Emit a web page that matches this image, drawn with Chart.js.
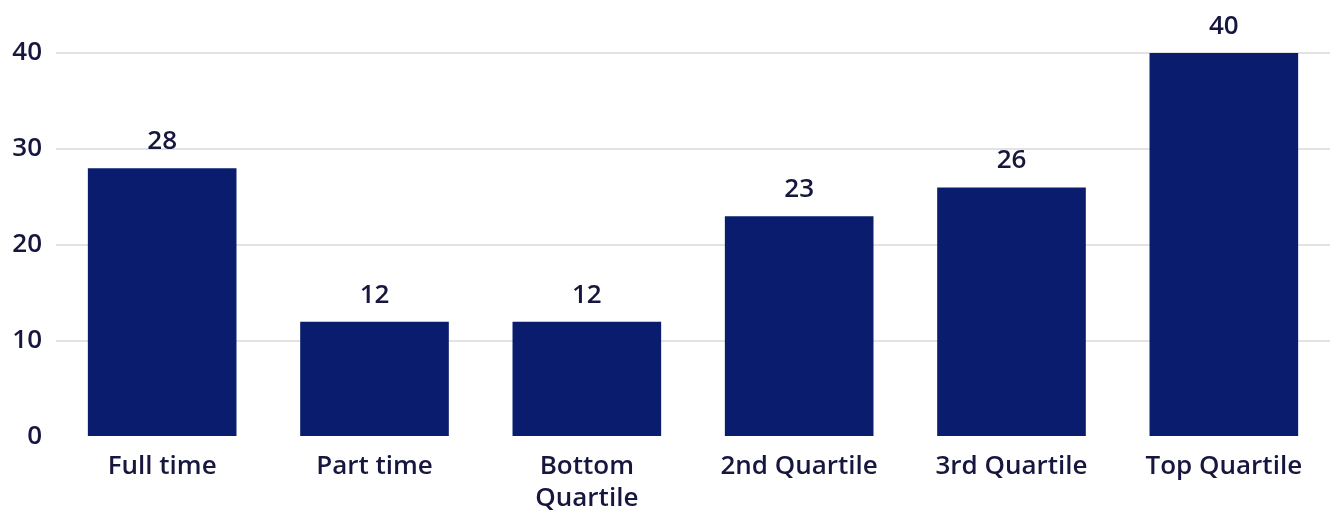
<!DOCTYPE html>
<html>
<head>
<meta charset="utf-8">
<script src="https://cdn.jsdelivr.net/npm/chart.js@4/dist/chart.umd.min.js"></script>
<style>
    html, body { margin: 0; padding: 0; background: #ffffff; }
    #wrap { width: 1333px; height: 512px; }
</style>
</head>
<body>
<div id="wrap"><canvas id="barChart"></canvas></div>
<script>
// Data
const categories = ['Full time', 'Part time', ['Bottom', 'Quartile'], '2nd Quartile', '3rd Quartile', 'Top Quartile'];
const values = [28, 12, 12, 23, 26, 40];
const yTicks = [0, 10, 20, 30, 40];

const barColor = '#0a1c6e';
const textColor = '#16163f';
const fontFamily = '"Open Sans", "Noto Sans", sans-serif';

// Draw the number above every bar
const valueLabels = {
    id: 'valueLabels',
    afterDatasetsDraw(chart) {
        const ctx = chart.ctx;
        const meta = chart.getDatasetMeta(0);
        ctx.save();
        ctx.font = '600 26px ' + fontFamily;
        ctx.fillStyle = textColor;
        ctx.textAlign = 'center';
        ctx.textBaseline = 'alphabetic';
        meta.data.forEach((bar, i) => {
            ctx.fillText(values[i], bar.x, bar.y - 19);
        });
        ctx.restore();
    }
};

const ctx = document.getElementById('barChart').getContext('2d');
const barChart = new Chart(ctx, {
    type: 'bar',
    data: {
        labels: categories,
        datasets: [{
            data: values,
            backgroundColor: barColor,
            borderWidth: 0,
            barPercentage: 0.7,
            categoryPercentage: 1.0
        }]
    },
    options: {
        responsive: true,
        maintainAspectRatio: false,
        animation: false,
        layout: {
            padding: { top: 53, right: 3, left: 0, bottom: 0 }
        },
        plugins: {
            legend: { display: false },
            tooltip: { enabled: false }
        },
        scales: {
            x: {
                afterFit(scale) { scale.height = 75; },
                grid: { display: false, drawTicks: false },
                border: { display: false },
                ticks: {
                    color: textColor,
                    font: { family: fontFamily, size: 26, weight: '600', lineHeight: 1.25 },
                    padding: 13,
                    maxRotation: 0,
                    autoSkip: false
                }
            },
            y: {
                min: 0,
                max: 40,
                afterFit(scale) { scale.width = 56; },
                afterBuildTicks(scale) { scale.ticks = yTicks.map(v => ({ value: v })); },
                grid: {
                    color: (c) => c.tick && c.tick.value === 0 ? 'rgba(0,0,0,0)' : '#e3e3e3',
                    lineWidth: 2,
                    drawTicks: false
                },
                border: { display: false },
                ticks: {
                    color: textColor,
                    font: { family: fontFamily, size: 26, weight: '600' },
                    padding: 14
                }
            }
        }
    },
    plugins: [valueLabels]
});
</script>
</body>
</html>
